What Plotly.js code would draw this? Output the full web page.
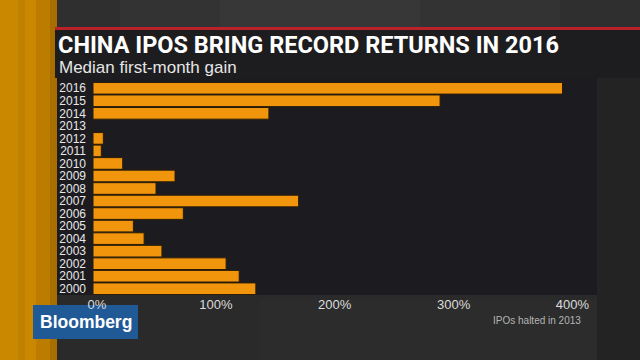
<!DOCTYPE html>
<html>
<head>
<meta charset="utf-8">
<script src="https://cdn.plot.ly/plotly-3.0.1.min.js"></script>
<style>
html,body{margin:0;padding:0;background:#2a2a2a;}
#chart{width:640px;height:360px;}
</style>
</head>
<body>
<div id="chart"></div>
<script>
// Data
const years = ['2016','2015','2014','2013','2012','2011','2010','2009','2008','2007','2006','2005','2004','2003','2002','2001','2000'];
const gains = [395, 292, 148, 0, 8.7, 7, 25, 69, 53, 173, 76, 34, 43, 58, 112, 123, 137];
const tickValues = [0, 100, 200, 300, 400];
const tickLabels = ['0%', '100%', '200%', '300%', '400%'];

// Layout geometry (pixels)
const W = 640, H = 360;
const M = {l: 93, r: 43, t: 82, b: 65};
const PW = W - M.l - M.r, PH = H - M.t - M.b;
const px = x => (x - M.l) / PW;
const py = y => (H - M.b - y) / PH;

function rect(x0, y0, x1, y1, color) {
  return {type: 'rect', xref: 'paper', yref: 'paper', layer: 'below',
    x0: px(x0), x1: px(x1), y0: py(y1), y1: py(y0),
    fillcolor: color, line: {width: 0}};
}

const shapes = [
  // backgrounds
  rect(0, 0, 640, 360, '#2a2a2a'),
  rect(0, 0, 640, 28, '#2f2f2f'),
  rect(120, 0, 560, 28, '#333333'),
  rect(220, 0, 420, 28, '#373737'),
  rect(597, 78, 640, 360, '#232323'),
  rect(260, 300, 597, 360, '#2c2c2c'),
  // left orange strip
  rect(0, 0, 57, 360, '#c98800'),
  rect(18, 0, 25, 360, '#c08100'),
  rect(36, 0, 50, 360, '#bb7c00'),
  rect(50, 0, 57, 360, '#a86e00'),
  // red rule
  rect(55, 27, 640, 30, '#b82228'),
  // title panel
  rect(55, 30, 640, 78, '#1d1d20'),
  // chart panel
  rect(57, 78, 597, 295, '#1c1c20'),
  // Bloomberg box
  rect(33, 305, 138, 339, '#1f5a96')
];

const annotations = [
  {text: '<b>CHINA IPOS BRING RECORD RETURNS IN 2016</b>', xref: 'paper', yref: 'paper',
    x: px(56), y: py(45), xanchor: 'left', yanchor: 'middle', showarrow: false,
    font: {family: 'Roboto, Liberation Sans, Arial', size: 23.5, color: '#ffffff'}},
  {text: 'Median first-month gain', xref: 'paper', yref: 'paper',
    x: px(57), y: py(68), xanchor: 'left', yanchor: 'middle', showarrow: false,
    font: {family: 'Liberation Sans, Arial', size: 17, color: '#e6e6e6'}},
  {text: 'IPOs halted in 2013', xref: 'paper', yref: 'paper',
    x: px(491), y: py(320), xanchor: 'left', yanchor: 'middle', showarrow: false,
    font: {family: 'Liberation Sans, Arial', size: 10, color: '#b4b4b4'}},
  {text: '<b>Bloomberg</b>', xref: 'paper', yref: 'paper',
    x: px(86), y: py(322), xanchor: 'center', yanchor: 'middle', showarrow: false,
    font: {family: 'Liberation Sans, Arial', size: 17.5, color: '#ffffff'}}
];

const trace = {
  type: 'bar', orientation: 'h',
  x: gains, y: years,
  marker: {color: '#f0950c', line: {color: '#2a1c08', width: 1}},
  hoverinfo: 'none'
};

const layout = {
  width: W, height: H, margin: M,
  paper_bgcolor: '#2a2a2a', plot_bgcolor: 'rgba(0,0,0,0)',
  bargap: 0.07, showlegend: false,
  xaxis: {range: [0, 424], tickvals: tickValues, ticktext: tickLabels,
    showgrid: false, zeroline: false, showline: false, ticks: '',
    ticklabelshift: 4,
    tickfont: {family: 'Liberation Sans, Arial', size: 13, color: '#dcdcdc'}, fixedrange: true},
  yaxis: {type: 'category', autorange: 'reversed', showgrid: false, zeroline: false,
    showline: false, ticks: '', ticklabelstandoff: 6,
    tickmode: 'array', tickvals: years, ticktext: years,
    tickfont: {family: 'Liberation Sans, Arial', size: 12, color: '#e8e8e8'}, fixedrange: true},
  shapes: shapes, annotations: annotations
};

Plotly.newPlot('chart', [trace], layout, {displayModeBar: false, staticPlot: true});
</script>
</body>
</html>
